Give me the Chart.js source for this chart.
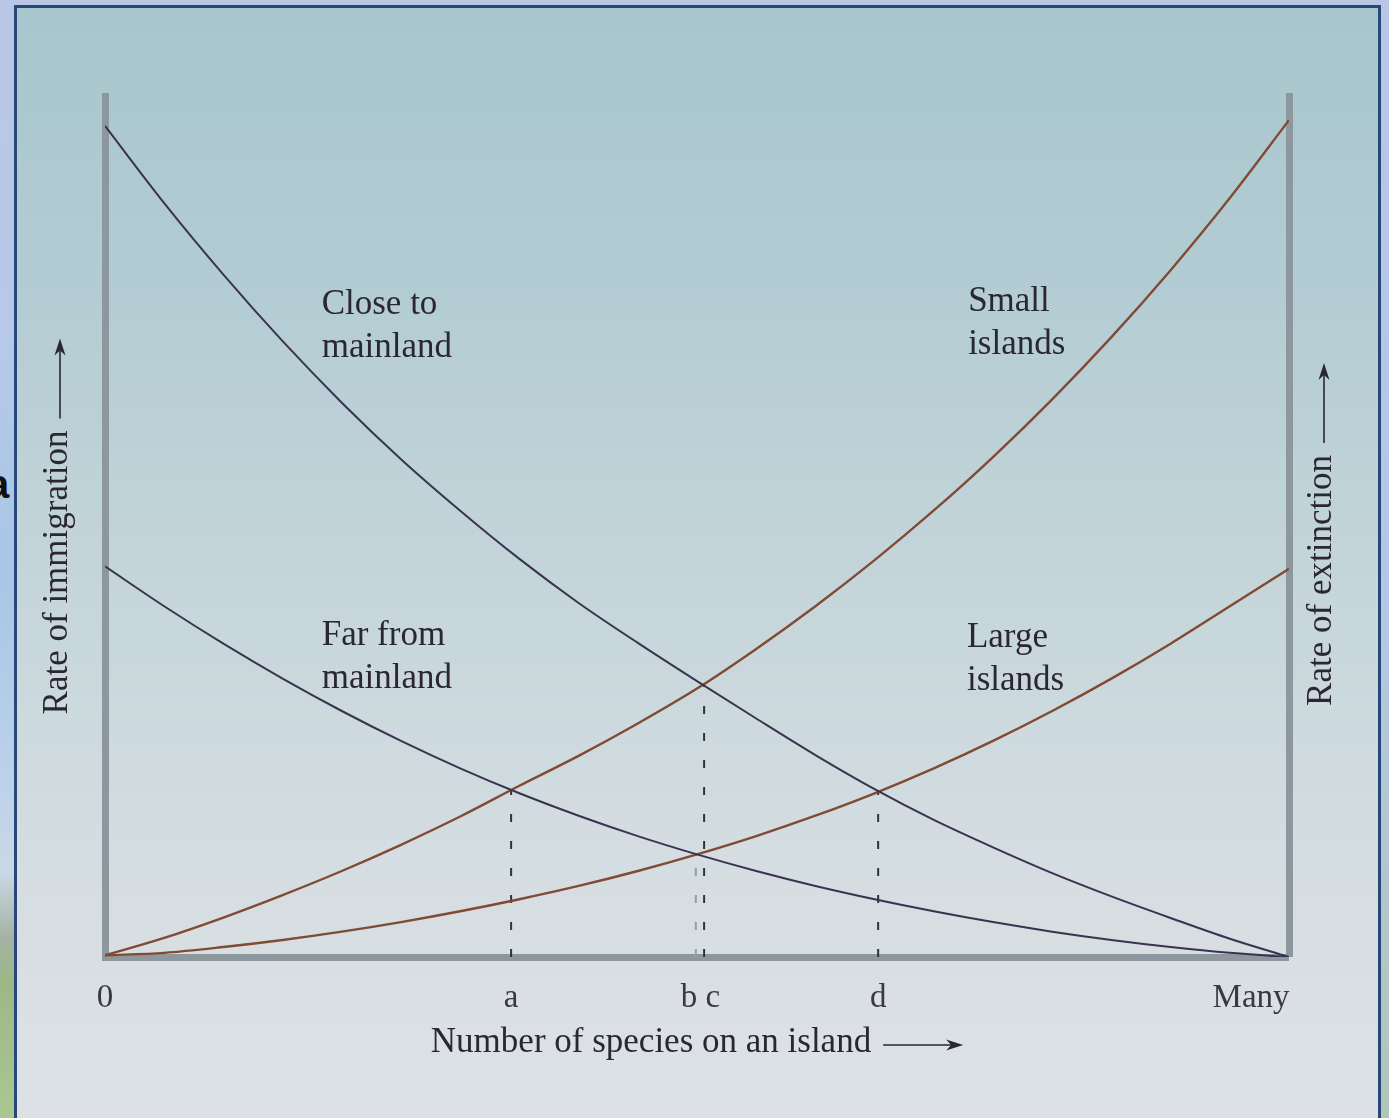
<!DOCTYPE html>
<html>
<head>
<meta charset="utf-8">
<title>Immigration and extinction rates</title>
<script src="https://cdn.jsdelivr.net/npm/chart.js@4.4.1/dist/chart.umd.min.js"></script>
<style>
  html, body { margin: 0; padding: 0; width: 1389px; height: 1118px; overflow: hidden;
    background: linear-gradient(180deg, #b9c6e4 0%, #b4c8e3 55%, #b0c6b8 100%); }
  #strip { position: absolute; left: 0; top: 0; width: 14px; height: 1118px; overflow: hidden;
    background: linear-gradient(180deg, #b9c7e6 0%, #b6c9e8 30%, #a8c6e6 52%, #bcd2ea 70%, #c9d8e6 78%, #a4b2a2 84%, #9db887 88%, #a9c891 100%); }
  #strip span { position: absolute; left: -13px; top: 462px; font: bold 40px "Liberation Sans", sans-serif; color: #111; }
  #frame { position: absolute; left: 14px; top: 5px; width: 1367px; height: 1130px; box-sizing: border-box;
    border: 3px solid #28487a;
    background: linear-gradient(180deg, #a8c6cd 0%, #b3ccd3 25%, #c4d5da 50%, #d4dde1 75%, #dee2e6 100%); }
  #wrap { position: absolute; left: 0; top: 0; width: 1389px; height: 1118px; }
</style>
</head>
<body>
<div id="strip"><span>a</span></div>
<div id="frame"></div>
<div id="wrap"><canvas id="islandChart"></canvas></div>
<script>
var speciesX = [0, 5, 10, 15, 20, 25, 30, 35, 40, 45, 50, 55, 60, 65, 70, 75, 80, 85, 90, 95, 100];

// immigration curves
var closeToMainland = [100, 90.7, 82.1, 74.1, 66.7, 59.9, 53.7, 47.9, 42.6, 37.8, 33.2, 28.7, 24.3, 20.2, 16.5, 13.2, 10.1, 7.3, 4.7, 2.2, 0];
var farFromMainland = [47, 42.2, 37.7, 33.5, 29.6, 26.0, 22.7, 19.7, 17.0, 14.55, 12.35, 10.35, 8.55, 6.95, 5.5, 4.2, 3.05, 2.05, 1.2, 0.5, 0];

// extinction curves
var smallIslands = [0.2, 2.3, 4.75, 7.45, 10.35, 13.5, 16.9, 20.6, 24.2, 28.1, 32.3, 37.07, 42.21, 47.75, 53.73, 60.16, 67.1, 74.58, 82.64, 91.32, 100.7];
var largeIslands = [0.2, 0.5, 1.2, 2.05, 3.05, 4.2, 5.5, 6.95, 8.55, 10.35, 12.35, 14.55, 17.0, 19.7, 22.7, 26.0, 29.6, 33.5, 37.7, 42.2, 46.7];

// equilibrium points a, b, c, d (x = species, y = rate at the crossing)
var equilibriumX = [34.3, 49.9, 50.6, 65.3];
var equilibriumY = [20.1, 12.35, 32.8, 19.9];

// x axis tick labels
var tickValues = [0, 34.3, 50.3, 65.3, 96.8];
var tickNames = ['0', 'a', 'b c', 'd', 'Many'];

var curveNames = [['Close to', 'mainland'], ['Far from', 'mainland'], ['Small', 'islands'], ['Large', 'islands']];
var xTitle = 'Number of species on an island';
var leftTitle = 'Rate of immigration';
var rightTitle = 'Rate of extinction';

// where the curve names sit (data units, first line centre)
var nameSpots = [[18.3, 78.5], [18.3, 38.6], [72.9, 78.8], [72.8, 38.4]];

var ink = '#2a2732';
var serif = '"Liberation Serif", "Times New Roman", serif';
var axisGrey = '#8d989e';

function pairs(ys) {
    return speciesX.map(function (x, i) { return { x: x, y: ys[i] }; });
}

var datasets = [
    { label: 'Close to mainland', data: pairs(closeToMainland), borderColor: '#3a3350', borderWidth: 2 },
    { label: 'Far from mainland', data: pairs(farFromMainland), borderColor: '#3a3350', borderWidth: 2 },
    { label: 'Small islands', data: pairs(smallIslands), borderColor: '#804a33', borderWidth: 2.4 },
    { label: 'Large islands', data: pairs(largeIslands), borderColor: '#804a33', borderWidth: 2.4 }
];
datasets.forEach(function (d) {
    d.pointRadius = 0;
    d.cubicInterpolationMode = 'monotone';
    d.order = 1;
});

// dashed drop lines from each crossing down to the axis
equilibriumX.forEach(function (x, i) {
    datasets.push({
        label: 'drop ' + i,
        data: [{ x: x, y: 0 }, { x: x, y: equilibriumY[i] }],
        borderColor: i === 1 ? '#9a9ca2' : '#33323a',
        borderWidth: 2,
        borderDash: [8, 19],
        pointRadius: 0,
        order: 2
    });
});

function drawTitle(ctx, text, cx, cy, angle) {
    var gap = 12, arrowLen = 80;
    ctx.save();
    ctx.translate(cx, cy);
    ctx.rotate(angle);
    var w = ctx.measureText(text).width;
    var x0 = -(w + gap + arrowLen) / 2;
    ctx.textAlign = 'left';
    ctx.textBaseline = 'middle';
    ctx.fillText(text, x0, 0);
    var ax = x0 + w + gap, ay = 2;
    ctx.lineWidth = 1.6;
    ctx.beginPath();
    ctx.moveTo(ax, ay);
    ctx.lineTo(ax + arrowLen - 10, ay);
    ctx.stroke();
    ctx.beginPath();
    ctx.moveTo(ax + arrowLen, ay);
    ctx.lineTo(ax + arrowLen - 17, ay - 5.5);
    ctx.lineTo(ax + arrowLen - 12, ay);
    ctx.lineTo(ax + arrowLen - 17, ay + 5.5);
    ctx.closePath();
    ctx.fill();
    ctx.restore();
}

var textPlugin = {
    id: 'figureText',
    afterDraw: function (chart) {
        var ctx = chart.ctx, area = chart.chartArea;
        var sx = chart.scales.x, sy = chart.scales.y;
        ctx.save();
        ctx.fillStyle = ink;
        ctx.strokeStyle = ink;
        ctx.font = '35px ' + serif;
        drawTitle(ctx, xTitle, (area.left + area.right) / 2, area.bottom + 86, 0);
        var midY = (area.top + area.bottom) / 2;
        drawTitle(ctx, leftTitle, area.left - 47, midY, -Math.PI / 2);
        drawTitle(ctx, rightTitle, area.right + 33, midY + 8, -Math.PI / 2);

        ctx.font = '35px ' + serif;
        ctx.textAlign = 'left';
        ctx.textBaseline = 'middle';
        curveNames.forEach(function (lines, i) {
            var px = sx.getPixelForValue(nameSpots[i][0]);
            var py = sy.getPixelForValue(nameSpots[i][1]);
            lines.forEach(function (t, j) {
                ctx.fillText(t, px, py + j * 43);
            });
        });
        ctx.restore();
    }
};

var ctx = document.getElementById('islandChart').getContext('2d');
var islandChart = new Chart(ctx, {
    type: 'line',
    data: { datasets: datasets },
    plugins: [textPlugin],
    options: {
        responsive: true,
        maintainAspectRatio: false,
        devicePixelRatio: 1,
        animation: false,
        layout: { padding: { top: 96, left: 0, right: 0, bottom: 0 } },
        plugins: { legend: { display: false }, tooltip: { enabled: false } },
        scales: {
            x: {
                type: 'linear',
                min: 0,
                max: 100,
                grid: { display: false, lineWidth: 0 },
                border: { color: axisGrey, width: 7 },
                afterBuildTicks: function (s) {
                    s.ticks = tickValues.map(function (v) { return { value: v }; });
                },
                afterFit: function (s) { s.height = 161; },
                ticks: {
                    autoSkip: false,
                    maxRotation: 0,
                    padding: 14,
                    color: '#3a3840',
                    font: { family: serif, size: 33 },
                    callback: function (v, i) { return tickNames[i]; }
                }
            },
            y: {
                min: 0,
                max: 103.6,
                position: 'left',
                grid: { display: false, lineWidth: 0 },
                border: { color: axisGrey, width: 7 },
                ticks: { display: false },
                afterFit: function (s) { s.width = 105; }
            },
            y2: {
                min: 0,
                max: 103.6,
                position: 'right',
                grid: { display: false, lineWidth: 0 },
                border: { color: axisGrey, width: 7 },
                ticks: { display: false },
                afterFit: function (s) { s.width = 100; }
            }
        }
    }
});
</script>
</body>
</html>
